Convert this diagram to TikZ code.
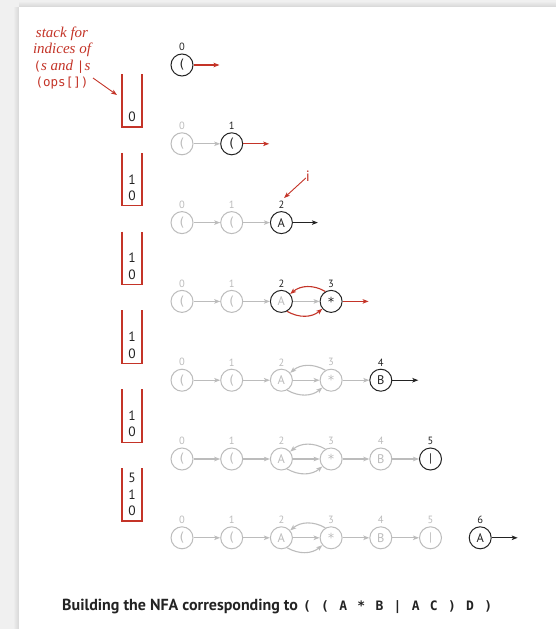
\documentclass[tikz,border=0pt]{standalone}
\usepackage{fontspec}
\setmainfont{Liberation Serif}
\setsansfont{PT Sans}
\setmonofont{DejaVu Sans Mono}
\usetikzlibrary{arrows.meta,calc}
\definecolor{bred}{RGB}{196,52,40}
\definecolor{lgray}{RGB}{188,188,188}
\definecolor{bgg}{RGB}{240,240,240}
\definecolor{ink}{RGB}{35,35,35}
\newcommand\symb[1]{\ifcase#1 {\ttfamily(}\or{\ttfamily(}\or A\or {\ttfamily*}\or B\or |\or A\fi}
\newcommand\gnodeat[2]{\node[gn,label={[gidx]above:#2}] (n#1#2) at ({182+49.7*#2},{65+78.8*#1}) {\symb{#2}};}
\newcommand\bnodeat[2]{\node[bn,label={[bidx]above:#2}] (n#1#2) at ({182+49.7*#2},{65+78.8*#1}) {\symb{#2}};}
\newcommand\stackat[1]{\draw[stk] (122,{74+78.8*#1}) -- (122,{127+78.8*#1}) -- (142,{127+78.8*#1}) -- (142,{74+78.8*#1});}
\newcommand\stnum[3]{\node[stkn] (s#1#2) at (132,{74+78.8*#1+#3}) {#2};}
\newcommand\cg{\hspace{10.3pt}}
\newcommand\monoin{\upshape\ttfamily\fontsize{12.5}{12.5}\selectfont}
\begin{document}
\begin{tikzpicture}[x=1pt,y=-1pt,label distance=2.5pt,
  st/.style={circle,draw,line width=1pt,minimum size=22pt,inner sep=0pt,font=\sffamily\fontsize{12.5}{12.5}\selectfont},
  bn/.style={st,draw=ink,text=ink},
  gn/.style={st,draw=lgray,text=lgray},
  idx/.style={font=\sffamily\fontsize{10.5}{10.5}\selectfont,inner sep=0pt},
  bidx/.style={idx,text=ink},
  gidx/.style={idx,text=lgray},
  arr/.style={-{Stealth[length=6pt,width=4.5pt,inset=1.5pt]},line width=1.1pt},
  garr/.style={arr,draw=lgray},
  barr/.style={arr,draw=ink},
  rarr/.style={arr,draw=bred},
  stk/.style={draw=bred,line width=1.3pt},
  stkn/.style={font=\sffamily\fontsize{13.5}{13.5}\selectfont,text=ink,inner sep=0pt}
]
\fill[bgg] (0,0) rectangle (556,629);
\shade[left color=bgg,right color=black!16] (13,7) rectangle (19,629);
\shade[top color=bgg,bottom color=black!16] (19,1) rectangle (556,7);
\fill[white] (19,7) rectangle (556,629);
\useasboundingbox (0,0) rectangle (556,629);

% note
\node[text=bred,align=center,font=\itshape\fontsize{15}{16.5}\selectfont,inner sep=0pt] (note) at (62,58)
  {stack for\\indices of\\{\monoin(}s and {\monoin|}s\\{\monoin(ops[])}};
\coordinate (ns) at (93,78);
\coordinate (nt) at (117,95);
\draw[rarr,line width=0.9pt] (ns) -- (nt);

% stacks
\foreach \k in {0,...,5}{\stackat{\k}}
\stnum{0}{0}{43}
\foreach \k in {1,...,5}{\stnum{\k}{1}{26.5}\stnum{\k}{0}{43}}
\stnum{5}{5}{10}

% row 0
\bnodeat{0}{0}
\coordinate (e0) at ($(n00.east)+(26,0)$);
\draw[rarr] (n00) -- (e0);

% row 1
\gnodeat{1}{0}
\bnodeat{1}{1}
\draw[garr] (n10) -- (n11);
\coordinate (e1) at ($(n11.east)+(26,0)$);
\draw[rarr] (n11) -- (e1);

% row 2
\gnodeat{2}{0}\gnodeat{2}{1}
\bnodeat{2}{2}
\draw[garr] (n20) -- (n21);
\draw[garr] (n21) -- (n22);
\coordinate (e2) at ($(n22.east)+(25,0)$);
\draw[barr] (n22) -- (e2);
\node[text=bred,font=\sffamily\fontsize{15}{15}\selectfont,inner sep=0pt] (ilbl) at (308,176) {i};
\coordinate (itgt) at (284,198);
\draw[rarr,line width=0.9pt] (ilbl) -- (itgt);

% row 3
\gnodeat{3}{0}\gnodeat{3}{1}
\node[st,draw=ink,text=lgray,label={[bidx]above:2}] (n32) at ({182+49.7*2},{65+78.8*3}) {A};
\bnodeat{3}{3}
\draw[garr] (n30) -- (n31);
\draw[garr] (n31) -- (n32);
\draw[garr] (n32) -- (n33);
\draw[rarr] (n33.120) to[out=150,in=40] (n32.40);
\draw[rarr] (n32.-60) to[out=-30,in=-140] (n33.-140);
\coordinate (e3) at ($(n33.east)+(26,0)$);
\draw[rarr] (n33) -- (e3);

% row 4
\foreach \c in {0,...,3}{\gnodeat{4}{\c}}
\bnodeat{4}{4}
\foreach \a/\b in {0/1,1/2,2/3,3/4}{\draw[garr] (n4\a) -- (n4\b);}
\draw[garr] (n43.120) to[out=150,in=40] (n42.40);
\draw[garr] (n42.-60) to[out=-30,in=-140] (n43.-140);
\coordinate (e4) at ($(n44.east)+(26,0)$);
\draw[barr] (n44) -- (e4);

% row 5
\foreach \c in {0,...,4}{\gnodeat{5}{\c}}
\bnodeat{5}{5}
\foreach \a/\b in {0/1,1/2,2/3,3/4,4/5}{\draw[garr] (n5\a) -- (n5\b);}
\draw[garr] (n53.120) to[out=150,in=40] (n52.40);
\draw[garr] (n52.-60) to[out=-30,in=-140] (n53.-140);

% row 6
\foreach \c in {0,...,5}{\gnodeat{6}{\c}}
\bnodeat{6}{6}
\foreach \a/\b in {0/1,1/2,2/3,3/4,4/5}{\draw[garr] (n6\a) -- (n6\b);}
\draw[garr] (n63.120) to[out=150,in=40] (n62.40);
\draw[garr] (n62.-60) to[out=-30,in=-140] (n63.-140);
\coordinate (e6) at ($(n66.east)+(26,0)$);
\draw[barr] (n66) -- (e6);

% caption
\node[anchor=base west,inner sep=0pt,text=ink,font=\sffamily\bfseries\fontsize{16}{16}\selectfont] (cap) at (62,610)
  {Building the NFA corresponding to\hspace{5pt}{\ttfamily\fontsize{13}{13}\selectfont(\cg(\cg A\cg *\cg B\cg |\cg A\cg C\cg )\cg D\cg )}};
\end{tikzpicture}
\end{document}
